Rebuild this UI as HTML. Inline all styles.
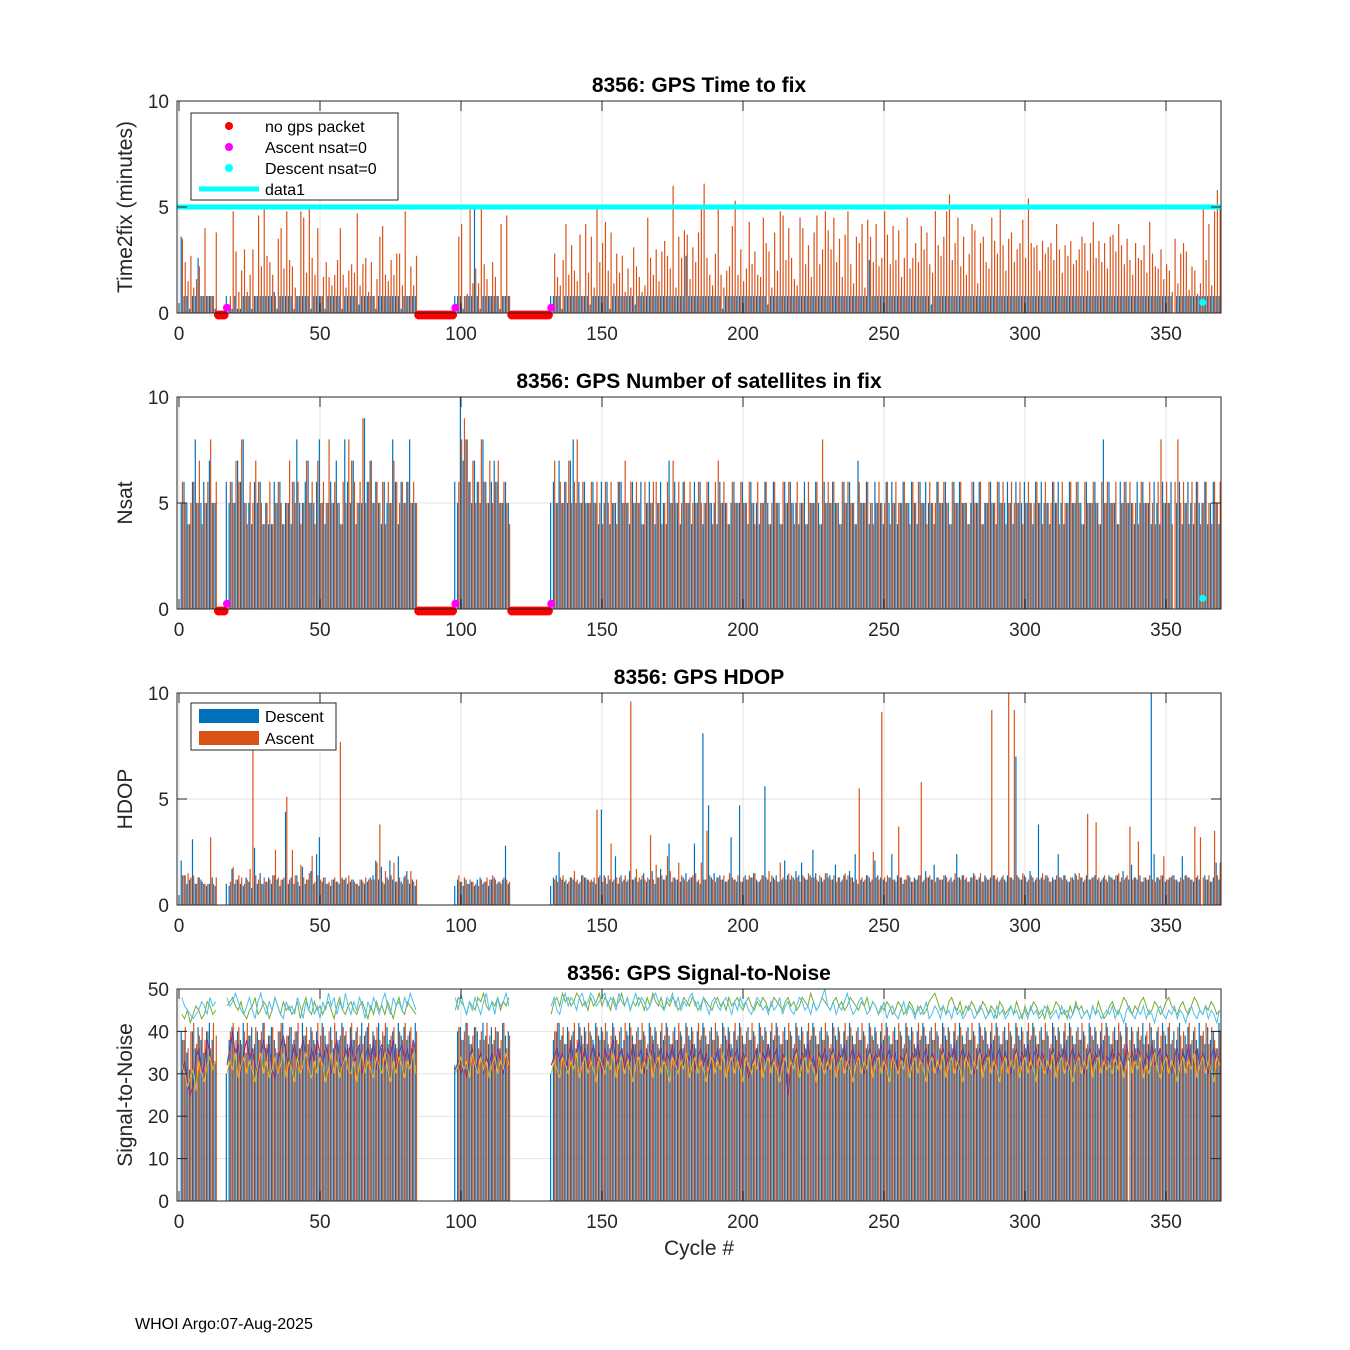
<!DOCTYPE html>
<html><head><meta charset="utf-8"><style>
html,body{margin:0;padding:0;background:#fff}
svg{display:block;font-family:"Liberation Sans","DejaVu Sans",sans-serif}
</style></head><body>
<svg id="chart" width="1350" height="1350" viewBox="0 0 1350 1350">
<rect width="1350" height="1350" fill="#fff"/>
<g id="root"></g>
<text x="135" y="1329" font-size="16" fill="#000">WHOI Argo:07-Aug-2025</text>
</svg>
<script>
const n=null;
const cycles=[];for(let c=1;c<=369;c++)cycles.push(c);
const xTicks=[0,50,100,150,200,250,300,350];
const titles=["8356: GPS Time to fix","8356: GPS Number of satellites in fix","8356: GPS HDOP","8356: GPS Signal-to-Noise"];
const yLabels=["Time2fix (minutes)","Nsat","HDOP","Signal-to-Noise"];
const yMaxes=[10,10,10,50];
const yTicks0=[0,5,10];
const yTicksSnr=[0,10,20,30,40,50];
const noPacket=[14,15,16,85,86,87,88,89,90,91,92,93,94,95,96,97,118,119,120,121,122,123,124,125,126,127,128,129,130,131];
const ascZero=[17,98,132];
const descZero=[363];
const t2fLine=5;
const t2fDesc=[3.6,.8,.8,.2,.8,.8,2.6,.8,.8,.8, .8,.8,.2,n,n,n,.8,.2,.2,.8, .2,.2,.8,.8,.8,.2,.8,.8,.8,.8, .8,.8,.8,1,.2,.8,.8,.8,.8,.8, .2,.8,.8,.8,.8,.8,.2,.8,.8,.8, .8,.2,.8,.8,.8,.8,.8,.2,.8,.8, .8,.8,.8,.4,.8,.8,.8,.8,.8,.2, .8,.8,.8,.8,.8,.8,.8,.8,.2,.8, .8,.8,.8,.8,n,n,n,n,n,n, n,n,n,n,n,n,n,.8,.8,.8, .2,.8,.8,.8,5,.8,.2,.8,.8,.8, .8,.8,.8,.2,.8,.8,.8,n,n,n, n,n,n,n,n,n,n,n,n,n, n,.8,.8,.8,.8,.2,.8,.8,.8,.8, .8,.8,.8,.8,.8,.4,.8,.8,.8,.8, .8,.8,.2,.8,.8,.8,.8,.8,.8,.8, .8,.4,.8,.8,.8,.8,.8,.8,.8,.8, .8,.8,.8,.8,.8,.8,.8,.8,.8,2.7, .8,.8,.8,.8,.8,.8,.8,.8,.8,.8, .8,.8,.2,.8,.8,.8,.8,.8,.8,.8, .8,.8,.8,.8,.8,.8,.8,.8,.4,.8, .8,.8,.8,.8,.8,.8,.8,.8,.8,.8, .8,.8,.8,.8,.8,.8,.8,.8,.8,.8, .8,.8,.8,.8,.8,.8,.8,.8,.8,.8, .8,.8,.8,.8,2.5,.8,.8,.8,.8,.8, .8,.8,.8,.8,.8,.8,.8,.8,.8,.8, .8,.8,.8,.8,.8,.8,.4,.8,.8,.8, .8,.8,.8,.8,.8,.8,.8,.8,.8,.8, .8,.8,.8,.8,.8,.8,.8,.8,.8,.8, .8,.8,.8,.8,.8,.8,.8,.8,.8,.8, .8,.8,.8,.8,.8,.8,.8,.8,.8,.8, .8,.8,.8,.8,.8,.8,.8,.8,.8,.8, .8,.8,.8,.8,.8,.8,.8,.8,.8,.8, .8,.8,.8,.8,.8,.8,.8,.8,.8,.8, .8,.8,.8,.8,.8,.8,.8,.8,.8,.8, .8,.8,n,.8,.8,.8,.8,.8,.8, .8,.8,.8,.8,.8,.8,.8,.8,.8,.8,.8,.8,.8,.8,.8];
const t2fAsc=[3.5,2.4,1.5,2.7,1.2,1.6,2.2,.8,4,.8, .8,.8,3.8,n,n,n,n,.8,4.8,2.9, 1,2,3,1,1.8,3,.8,4.6,2.2,5, 2.7,2.4,1.8,.8,3.5,4,2.1,4.8,2.5,2.2, 1.2,.8,4.8,4.5,1.9,5.1,2.6,1.8,4,.8, 1.7,2.4,1.7,1.3,1.8,2.5,4,1.8,1.2,2, 2.3,1.9,4.7,1.3,2.3,2.6,1,2.4,.8,1.6, 3.6,4.1,1.8,1.5,2.5,1.8,2.8,2.8,1.3,4.8, .8,2.2,1.3,2.7,n,n,n,n,n,n, n,n,n,n,n,n,n,n,3.6,4.2, .8,.9,5,1.4,2.1,1.4,4.9,2.3,1.6,.8, 2.4,1.7,.8,4.2,.8,4.6,.8,n,n,n, n,n,n,n,n,n,n,n,n,n, n,n,2.8,1.7,1.3,2.5,4.2,1.8,3.2,2, 1.5,3.7,.8,4.2,1.9,3.6,1.2,5.1,2.4,3.3, 4.3,2,3.8,1.4,2.8,1.9,2.7,1,2.1,1.2, 3.1,2.2,1.7,1,1.3,4.5,2.6,1.8,3,1.5, 2.9,3.4,2.7,2.1,6,1.2,3.6,2.6,3.9,3.7, 1.6,3.1,2.4,3.8,4.9,6.1,2.6,1.8,1.3,2.8, 5.1,1.8,1.2,2,2.2,4.1,5.3,1.8,3,1.5, 2.1,4.3,2.3,2.9,1.8,1.7,4.5,3.3,2.9,1.2, 3.8,2,4.8,4.6,2.5,4,2.6,1.6,1.3,4.5, 4,2.3,3.2,1.7,3.8,4.6,2.3,3,4.8,3.9, 3,4.5,2.4,3.5,1.7,3.7,4.8,2.3,1.4,3.6, 3.3,4.2,1.2,4.4,3.6,2.4,4.2,2.2,2.6,4.8, 3.7,2.3,4.1,2.5,3.9,1.7,2.6,4.5,2.1,2.6, 3.3,2.4,4.1,3,3.8,2.3,1.9,4.8,3.2,2.7, 3.6,4.8,5.6,2.5,3.3,4.5,2.2,3.6,1.8,2.8, 4.2,3.9,1.4,3.3,3.6,2.4,2.1,4.5,3.4,2.8, 4.9,3.2,2,3.5,3.8,2.4,3,3.3,4.4,2.6, 5.4,3.3,3.1,3.2,2,3.4,2.8,3.1,3.3,2.5, 4.2,3,1.9,3.2,2.7,3.4,2.3,2.5,3,3.6, 3.3,2,3.3,4.3,2.6,3.4,2.4,3.3,2.1,3.6, 3.7,2.9,4.2,3.2,2.3,3.5,2.5,1.8,3.3,2.6, 2.5,3.2,1.9,4.3,2.8,2.2,2.1,3,1.6,2.3, 2,1,3.5,1.4,2.8,3.3,2.9,1.1,2.2,2, .9,1.4,5,2.5,4.2,1.3,4.8,5.8,5];
const nsatDesc=[5,6,5,4,6,8,5,5,6,5, 7,5,5,n,n,n,6,5,6,5, 7,6,8,5,5,4,6,5,6,4, 5,4,4,6,5,6,4,5,5,4, 6,8,5,5,6,7,5,5,6,8, 5,4,5,6,5,7,5,4,8,6, 5,7,4,5,5,9,6,7,5,6, 5,4,6,5,5,8,6,4,6,5, 6,8,5,5,n,n,n,n,n,n, n,n,n,n,n,n,n,6,5,10, 7,8,6,5,7,6,5,8,6,5, 6,7,6,5,5,6,5,n,n,n, n,n,n,n,n,n,n,n,n,n, n,5,6,5,7,5,6,5,7,8, 5,6,5,6,5,5,6,5,4,6, 5,6,4,5,5,6,6,5,5,4, 6,5,5,6,4,5,6,5,4,5, 6,5,4,7,5,6,5,4,6,5, 5,4,6,5,6,4,5,6,5,5, 4,6,5,5,4,5,6,5,5,6, 5,4,6,5,5,4,5,6,5,4, 6,5,5,4,6,5,6,5,5,4, 5,6,4,5,5,6,5,4,6,5, 5,6,5,5,4,6,5,6,5,4, 7,5,5,6,4,5,6,5,5,4, 6,5,6,5,4,5,6,5,5,6, 5,4,6,5,6,5,5,4,6,5, 5,6,5,4,6,5,6,5,5,4, 5,6,5,6,4,5,5,6,5,4, 6,5,5,6,5,4,6,5,5,6, 5,5,4,6,5,6,5,5,4,6, 5,6,5,4,5,6,5,5,6,5, 4,6,5,5,6,5,4,8,5,6, 5,5,4,6,5,6,5,5,4,6, 5,6,5,5,4,6,5,4,6,5, 5,6,0,5,6,4,5,6,5, 4,6,5,5,6,4,5,6,5,4,6,5,5,6,4,6,5];
const nsatAsc=[6,5,4,5,6,5,7,4,5,6, 8,5,6,n,n,n,0,6,5,7, 6,8,5,4,6,5,7,6,5,4, 5,6,4,5,6,5,4,5,7,6, 5,6,4,5,7,5,6,4,7,5, 6,5,8,5,6,5,4,6,5,8, 7,6,5,6,9,5,6,7,5,6, 5,6,4,6,5,7,6,5,6,5, 6,5,6,5,n,n,n,n,n,n, n,n,n,n,n,n,n,0,6,8, 9,8,6,7,5,6,8,6,5,7, 5,6,7,5,6,5,4,n,n,n, n,n,n,n,n,n,n,n,n,n, n,0,7,5,6,5,6,7,5,6, 8,5,6,5,5,6,5,6,5,4, 6,5,6,5,4,6,5,7,5,6, 5,6,5,4,6,5,5,6,6,5, 4,5,6,5,7,5,6,5,6,5, 6,5,5,6,5,5,6,5,4,6, 7,5,6,5,4,6,5,5,6,5, 5,6,5,4,6,5,5,6,4,5, 6,5,4,6,5,6,5,4,6,5, 5,4,6,5,5,6,4,8,5,6, 5,6,5,4,6,5,6,5,5,4, 6,5,5,6,5,4,5,6,5,5, 6,4,5,6,5,5,6,5,4,6, 5,6,5,5,4,6,5,5,6,5, 6,5,4,6,5,5,6,5,5,4, 6,5,5,6,4,5,6,5,5,6, 5,6,4,5,6,5,5,6,4,5, 6,5,5,6,5,4,6,5,5,6, 5,4,6,5,5,6,5,6,5,4, 6,5,5,6,5,4,6,5,6,5, 5,6,4,5,6,5,6,5,5,4, 6,5,5,6,5,4,6,8,5,6, 5,4,6,8,5,6,5,4,6, 5,6,4,5,6,5,4,6,5,6,5,4,6,5,6,5,4];
const hdopDesc=[2.1,1.4,1,1.2,3.1,1,1.3,1.2,1,.9, 1,1.3,.9,n,n,n,1,.9,1.7,1, 1.2,1,.9,1.3,1.1,.8,2.7,1,1.5,1, 1.1,1.3,1,1.4,1.2,.9,1.2,4.4,1,1.3, 1,1.4,.9,1.8,1,1.2,1.6,1,2.4,3.2, 1.1,1.3,1,.9,1.2,1.1,1,1.3,1.2,1, 1.1,1.2,1,.9,1.2,1,1.1,1.3,1.4,2.1, 1.2,1.8,1,1.3,2.1,1.2,1.1,2.3,1.1,1.3, 1.6,1,1.2,.9,n,n,n,n,n,n, n,n,n,n,n,n,n,.9,1.2,1.1, .9,1.2,1,1.1,.9,1.2,1.3,1,1.1,.9, 1.2,1.3,1,1.1,1.2,2.8,1,n,n,n, n,n,n,n,n,n,n,n,n,n, n,.9,1.3,1.4,2.5,1.2,1.1,1,1.3,1.2, 1.1,1,1.4,1.3,1.2,1.1,1.1,1,1.3,4.5, 1.4,1,1.2,1.1,2.3,1,1.4,1.2,1.1,1.6, 1.2,1.3,1.1,1.2,1.5,1.1,1.2,1.6,1,1.3, 1.7,1.2,1.4,2.9,1.1,1.3,1.2,1.1,1.3,1.5, 1.2,1.3,2.9,1.1,1,8.1,1.2,4.7,1.3,1.5, 1.3,1.4,1.2,1.1,1.2,3.2,1.2,1.1,4.7,1.1, 1.4,1.2,1.3,1.5,1.2,1.1,1.4,5.6,1.2,1.1, 1.3,1.4,1.1,1.2,2.1,1.4,1.2,1.3,1.6,1.4, 2,1.3,1.2,1.4,2.6,1.5,1.1,1.3,1.2,1.5, 1.4,1.2,1.9,1.3,1.1,1.4,1.2,1.6,1.3,2.4, 1,1.2,1.1,1.4,1.3,1.2,2.1,1.4,1.3,1.2, 1.1,1.3,2.4,1.2,1.4,1.3,1,1.2,1.4,1.1, 1.3,1.2,1.4,1.1,1.6,1.3,1.2,1.9,1.3,1.2, 1.2,1.4,1.1,1.3,1.2,2.4,1.3,1.4,1.2,1.1, 1.3,1.5,1.2,1.3,1.1,1.4,1.2,1.3,1.4,1.2, 1.1,1.3,1.2,1.4,1.3,1.2,7,1.3,1.2,1.4, 1.1,1.6,1.3,1.2,3.8,1.3,1.2,1.4,1.1,1.3, 1.2,2.4,1.3,1.4,1.2,1.1,1.3,1.5,1.2,1.3, 1.1,1.4,1.2,1.3,1.4,1.2,1.1,1.3,1.2,1.4, 1.3,1.2,1.4,1.1,1.6,1.3,1.2,1.9,1.3,1.2, 1.4,1.1,1.3,1.2,10,2.4,1.3,1.2,1.4,1.1, 1.2,1.3,1.4,1.2,1.1,2.3,1.4,1.3,1.2,1.1, 1.3,1.2,n,1.4,1.2,1.1,1.3,2,1.2];
const hdopAsc=[1.4,1.4,1.5,1.3,1.4,1,1.3,1.1,1,1, 3.2,1,1.3,n,n,n,n,1.1,1.8,1.2, 1.4,1.3,1,1.2,1.7,7.5,1.4,1.2,1,1.3, 1.1,1.2,1.4,2.6,1.3,1.2,1.3,5.1,1.2,2.6, 1.4,1.1,1.9,1.3,1.2,1.5,2.3,1.1,1.4,1.2, 1.3,1,1.1,1.2,1.3,1.1,7.7,1.2,1.3,1.4, 1.2,1.1,1,1.2,1.1,1.3,1.2,1.2,1.2,2, 3.8,1.1,1.6,1.2,1.4,2,1.1,1.3,1,1.4, 1.2,1.6,1.1,1.2,n,n,n,n,n,n, n,n,n,n,n,n,n,n,1.4,1.1, 1.3,1,1.2,1.1,1,.9,1.2,1.1,1.3,1.2, 1.4,1.2,1.1,1,1.3,1.2,1.1,n,n,n, n,n,n,n,n,n,n,n,n,n, n,n,1.2,1.1,1.3,1.4,1.2,1.1,1.3,1.6, 1.2,1.1,1.4,1.3,1.2,1.2,1.3,4.5,1.4,1.1, 1.3,1.4,2.9,1.2,1.3,1.3,1.1,1.4,1.2,9.6, 1.2,1.7,1.3,1.4,1.2,1.3,3.3,1.2,1.9,1.3, 1.4,1.2,2.3,1.6,1.3,1.2,2,1.4,1.2,1.1, 1.3,1.4,1.5,1.2,2,1.2,3.5,1.4,1.2,1.1, 1.3,1.2,1.4,1.1,1.5,1.3,1.2,1.4,1.1,1.3, 1.2,1.4,1.3,1.5,1.1,1.2,1.4,1.3,1.6,1.4, 1.2,1.1,2,1.3,1.2,1.5,1.4,1.2,1.3,1.1, 1.4,1.2,1.5,1.3,1.3,1.2,1.4,1.1,1.5,1.3, 1.2,1.4,1.1,1.3,1.2,1.5,1.4,1.3,1.1,1.2, 5.5,1.3,1.2,1.4,1.1,2.5,1.3,1.2,9.1,1.3, 1.4,1.3,1.2,1.1,3.7,1.3,1.2,1.4,1.3,1.1, 1.2,1.4,5.8,1.2,1.3,1.4,1.2,1.1,1.3,1.2, 1.4,1.3,1.2,1.1,1.5,1.3,1.2,1.4,1.3,1.1, 1.3,1.4,1.2,1.5,1.1,1.3,1.2,9.2,1.4,1.3, 1.2,1.4,1.1,10,1.3,9.2,1.4,1.2,1.5,1.3, 1.2,1.4,1.1,1.3,1.2,1.5,1.4,1.3,1.1,1.2, 1.4,1.3,1.2,1.4,1.1,1.3,1.2,1.4,1.5,1.3, 1.2,4.3,1.2,1.3,3.9,1.3,1.2,1.4,1.1,1.3, 1.2,1.4,1.5,1.3,1.2,1.4,3.7,1.2,1.3,3, 1.1,1.3,1.2,1.4,1.2,1.1,1.3,1.4,2.3,1.2, 1.3,1.4,1.2,1.1,1.3,1.2,1.4,1.3,1.2,3.7, 1.4,3.2,1.3,1.2,1.4,1.1,3.5,1.4,2];
const snrDesc=[40,38,35,31,40,36,41,38,35,40, 42,38,33,n,n,n,30,38,41,36, 40,38,42,35,39,41,37,40,38,42, 36,39,41,38,35,40,42,37,39,41, 38,40,36,42,39,37,41,38,40,35, 42,39,37,41,36,40,38,42,39,37, 41,38,40,36,42,39,41,37,40,38, 42,36,39,41,38,40,37,42,39,41, 38,40,36,42,n,n,n,n,n,n, n,n,n,n,n,n,n,32,40,41, 38,42,39,37,41,40,38,42,39,37, 41,38,40,36,42,39,40,n,n,n, n,n,n,n,n,n,n,n,n,n, n,30,38,40,42,39,37,41,38,40, 36,42,39,41,37,40,38,42,39,41, 38,40,36,42,39,37,41,38,40,42, 39,37,41,38,40,36,42,39,41,37, 40,38,42,39,37,41,38,40,36,42, 39,41,37,40,38,42,39,37,41,38, 40,36,42,39,41,37,40,38,42,39, 37,41,38,40,36,42,39,41,37,40, 38,42,39,37,41,38,40,36,42,39, 41,37,40,38,42,39,37,41,38,40, 36,42,39,41,37,40,38,42,39,37, 41,38,40,36,42,39,41,37,40,38, 42,39,37,41,38,40,36,42,39,41, 37,40,38,42,39,37,41,38,40,36, 42,39,41,37,40,38,42,39,37,41, 38,40,36,42,39,41,37,40,38,42, 39,37,41,38,40,36,42,39,41,37, 40,38,42,39,37,41,38,40,36,42, 39,41,37,40,38,42,39,37,41,38, 40,36,42,39,41,37,40,38,42,39, 37,41,38,40,36,42,n,41,37,40, 38,42,39,37,41,38,40,36,42, 39,41,37,40,38,42,36,39,41,37,40,38,42,39,37,41,38,40,36,42,39,41,37,40,38];
const snrAsc=[38,41,36,40,42,37,39,41,38,40, 36,42,39,n,n,n,n,40,42,38, 41,37,40,42,39,36,41,38,40,42, 37,39,41,36,40,42,38,39,41,37, 40,42,36,39,41,38,40,37,42,39, 41,36,40,38,42,37,39,41,40,36, 42,38,41,39,37,40,42,36,39,41, 38,40,42,37,39,41,36,40,38,42, 39,41,37,40,n,n,n,n,n,n, n,n,n,n,n,n,n,n,41,38, 40,42,37,39,41,36,40,38,42,39, 37,41,40,38,42,36,39,n,n,n, n,n,n,n,n,n,n,n,n,n, n,n,40,42,38,41,37,40,39,42, 38,41,37,40,42,39,36,41,38,40, 42,37,39,41,38,40,36,42,39,41, 37,40,38,42,39,37,41,38,40,36, 42,39,41,37,40,38,42,39,37,41, 38,40,36,42,39,41,37,40,38,42, 39,37,41,38,40,36,42,39,41,37, 40,38,42,39,37,41,38,40,36,42, 39,41,37,40,38,42,39,37,41,38, 40,36,42,39,41,37,40,38,42,39, 37,41,38,40,36,42,39,41,37,40, 38,42,39,37,41,38,40,36,42,39, 41,37,40,38,42,39,37,41,38,40, 36,42,39,41,37,40,38,42,39,37, 41,38,40,36,42,39,41,37,40,38, 42,39,37,41,38,40,36,42,39,41, 37,40,38,42,39,37,41,38,40,36, 42,39,41,37,40,38,42,39,37,41, 38,40,36,42,39,41,37,40,38,42, 39,37,41,38,40,36,42,39,41,37, 40,38,42,39,37,41,38,40,36, 41,39,37,40,42,38,36,41,39,40,37,42,38,36,41,39,40,37,42,38,41,36,39,40,42,37,41,38,36,40,39,42,37,41,38,40,36,39,42,37,41,38,40,39,36];
const snrGreen=[44,43,45,42,44,46,45,43,44,47, 46,44,45,n,n,n,46,47,48,46, 45,47,44,43,45,46,48,44,45,47, 46,43,45,48,46,44,47,45,46,44, 45,47,43,46,48,45,44,47,45,46, 44,46,47,45,43,46,48,45,44,46, 47,45,44,46,47,45,43,46,44,47, 45,46,44,47,45,43,46,48,45,44, 47,46,45,44,n,n,n,n,n,n, n,n,n,n,n,n,n,45,48,47, 46,44,47,46,45,48,47,49,46,45, 47,46,48,45,47,46,48,n,n,n, n,n,n,n,n,n,n,n,n,n, n,44,47,48,46,49,47,48,46,47, 49,48,46,47,45,48,46,47,49,46, 48,47,45,48,46,47,49,46,48,45, 47,46,48,47,45,48,46,49,47,46, 48,45,47,46,48,47,45,46,48,47, 46,48,47,45,46,48,47,46,45,47, 48,46,47,45,48,46,47,48,46,45, 47,48,46,45,47,46,48,47,45,46, 48,47,46,45,47,48,46,47,45,46, 48,47,46,49,47,45,46,48,47,46, 45,47,48,46,47,45,46,48,47,46, 45,47,46,48,45,47,46,44,46,45, 47,46,44,45,47,46,44,45,47,46, 44,45,46,44,45,47,48,49,47,45, 46,44,47,48,46,45,47,44,46,45, 47,46,44,45,47,46,44,46,45,43, 47,46,44,45,46,44,47,45,43,46, 44,45,47,46,44,45,43,46,44,45, 47,46,44,45,43,46,44,47,45,46, 44,45,43,46,44,47,45,43,44, 46,47,45,44,46,48,47,45,44,46,45,47,48,46,44,45,47,46,44,45,47,48,46,45,44,46,47,45,44,46,48,47,45,44,46,45,47,46,44,45,47,46,44,45,43];
const snrCyan=[48,46,45,44,43,44,45,47,46,44, 48,46,47,n,n,n,48,46,47,49, 47,45,44,46,48,45,43,47,49,46, 44,47,45,48,46,44,43,47,45,46, 44,48,46,43,47,45,48,44,46,43, 47,45,49,46,48,44,47,45,49,46, 44,47,45,48,46,43,47,45,48,46, 44,47,49,46,44,48,46,47,45,48, 46,49,47,45,n,n,n,n,n,n, n,n,n,n,n,n,n,48,45,49, 46,44,47,45,48,46,44,47,49,45, 47,44,48,46,47,49,46,n,n,n, n,n,n,n,n,n,n,n,n,n, n,46,48,45,44,47,49,46,48,47, 45,48,49,46,47,49,48,46,47,48, 49,46,48,47,45,49,47,46,48,45, 47,49,46,48,47,45,46,48,49,47, 46,45,48,47,49,46,48,45,47,46, 48,49,46,47,45,48,46,44,47,48, 46,45,47,48,46,44,47,45,48,46, 47,45,44,46,48,47,45,46,44,47, 45,46,48,44,46,47,45,44,46,48, 47,45,46,44,47,45,46,48,50,46, 45,47,44,46,45,47,49,46,44,45, 47,48,46,44,45,47,46,44,45,47, 43,45,46,44,43,45,47,44,46,45, 43,46,44,45,47,43,44,46,45,43, 46,44,45,43,46,44,45,43,44,46, 45,43,44,46,45,43,44,45,43,46, 44,45,43,44,46,44,45,43,44,45, 43,46,44,45,43,44,46,45,43,44, 45,43,46,44,45,43,44,46,45,43, 44,45,43,46,44,45,43,44,45, 44,46,43,45,44,42,45,46,44,43,45,44,46,43,45,44,42,45,46,44,43,45,44,46,43,45,44,42,45,46,44,43,45,44,46,43,45,44,42,45,44,46,43,45,44];
const snrPurple=[30,33,28,25,27,34,36,30,32,38, 35,31,33,n,n,n,32,36,40,34, 37,31,35,38,33,36,32,30,35,38, 34,37,31,29,33,36,39,35,31,34, 37,32,35,38,34,31,36,33,38,35, 32,37,34,30,35,38,33,31,36,34, 38,32,35,37,30,34,36,33,38,31, 35,37,32,36,34,38,31,35,37,33, 36,32,38,35,n,n,n,n,n,n, n,n,n,n,n,n,n,31,33,30, 32,29,34,36,31,33,35,30,34,32, 35,31,36,33,30,34,32,n,n,n, n,n,n,n,n,n,n,n,n,n, n,32,34,36,33,35,31,34,37,32, 35,38,33,36,31,34,37,32,35,30, 36,33,35,38,32,34,36,31,35,33, 37,32,34,36,30,35,33,37,31,34, 36,32,35,33,37,31,34,36,32,35, 33,37,31,34,36,32,35,30,34,33, 36,31,35,33,37,32,34,36,31,35, 33,29,32,34,36,31,35,33,37,32, 34,36,30,35,33,25,32,34,36,31, 35,33,37,32,34,30,35,33,36,31, 34,36,32,35,33,37,31,34,36,32, 35,33,30,34,36,32,35,33,37,31, 34,36,32,35,30,34,33,36,31,35, 33,37,32,34,36,31,35,33,30,34, 36,32,35,33,37,31,34,36,32,35, 33,30,34,36,32,35,33,37,31,34, 36,32,35,33,30,34,36,32,35,33, 37,31,34,36,32,35,33,30,34,36, 32,35,33,37,31,34,36,32,35,33, 30,34,36,32,35,33,37,31,34, 33,36,32,35,34,31,37,33,35,32,36,34,31,35,33,37,32,34,36,31,35,33,30,34,36,32,35,33,37,31,34,36,32,35,33,30,34,36,32,35,33,37,31,34,36];
const snrOrange=[32,30,27,29,31,26,33,30,28,32, 34,31,33,n,n,n,30,33,31,35, 29,32,34,30,33,31,28,32,35,30, 33,29,31,34,30,32,35,29,33,31, 28,34,30,32,35,31,29,33,30,34, 32,28,31,35,30,33,29,32,34,31, 30,33,28,32,35,30,33,31,29,34, 32,30,35,31,28,33,30,34,32,29, 33,31,35,30,n,n,n,n,n,n, n,n,n,n,n,n,n,30,32,34, 31,33,29,35,32,30,34,31,33,29, 32,34,30,33,31,35,32,n,n,n, n,n,n,n,n,n,n,n,n,n, n,30,33,31,29,34,32,30,33,31, 35,29,32,34,30,33,31,28,34,32, 30,33,31,35,29,32,34,30,33,31, 28,32,34,30,33,31,35,29,32,34, 30,33,31,28,34,32,30,33,31,35, 29,32,34,30,33,31,28,32,34,30, 33,31,35,29,32,34,30,33,31,28, 34,32,30,33,31,35,29,32,34,30, 33,31,28,32,34,30,33,31,35,29, 32,34,30,33,31,28,34,32,30,33, 31,35,29,32,34,30,33,31,28,32, 34,30,33,31,35,29,32,34,30,33, 31,28,34,32,30,33,31,35,29,32, 34,30,33,31,28,32,34,30,33,31, 35,29,32,34,30,33,31,28,34,32, 30,33,31,35,29,32,34,30,33,31, 28,32,34,30,33,31,35,29,32,34, 30,33,31,28,34,32,30,33,31,35, 29,32,34,30,33,31,28,32,34,30, 33,31,35,29,32,34,30,33,31, 32,30,34,31,33,29,32,35,30,33,31,34,29,32,30,33,35,31,29,32,34,30,33,31,28,32,34,30,33,31,35,29,32,34,30,33,31,28,34,32,30,33,31,35,29];

const NS="http://www.w3.org/2000/svg";
const root=document.getElementById('root');
const L=177,R=1221,X0=179,XS=2.82;
const tops=[101,397,693,989],H=212;
function xS(v){return X0+v*XS;}
function yS(p,v){return tops[p]+H-v/yMaxes[p]*H;}
function mk(tag,attrs,parent){const e=document.createElementNS(NS,tag);for(const k in attrs)e.setAttribute(k,attrs[k]);(parent||root).appendChild(e);return e;}
const C={blue:"#0072BD",orange:"#D95319",yellow:"#EDB120",purple:"#7E2F8E",green:"#77AC30",cyan:"#4DBEEE"};

for(let p=0;p<4;p++){
  const g=mk('g',{});
  
  
  const top=tops[p],bot=top+H;
  const grid=mk('g',{},g);
  
  
  xTicks.forEach(t=>{mk('line',{x1:xS(t),x2:xS(t),y1:top,y2:bot,stroke:"#e3e3e3","stroke-width":1},grid);});
  const yt=p===3?yTicksSnr:yTicks0;
  yt.forEach(t=>{mk('line',{x1:L,x2:R,y1:yS(p,t),y2:yS(p,t),stroke:"#e3e3e3","stroke-width":1},grid);});
  const marks=mk('g',{},g);
  
  
  const pairs=[[t2fDesc,t2fAsc],[nsatDesc,nsatAsc],[hdopDesc,hdopAsc],[snrDesc,snrAsc]][p];
  cycles.forEach((c,i)=>{
    const d=pairs[0][i],a=pairs[1][i];
    if(d!=null&&d>0){const b=mk('line',{x1:xS(c-0.22),x2:xS(c-0.22),y1:bot,y2:Math.max(top,yS(p,d)),stroke:C.blue,"stroke-width":1.2},marks);
      
      }
    if(a!=null&&a>0){const b=mk('line',{x1:xS(c+0.22),x2:xS(c+0.22),y1:bot,y2:Math.max(top,yS(p,a)),stroke:C.orange,"stroke-width":1.2},marks);
      
      }
  });
  if(p===3){
    [[snrGreen,C.green],[snrCyan,C.cyan],[snrPurple,C.purple],[snrOrange,C.yellow]].forEach(([arr,col])=>{
      let dstr="",pen=false;
      cycles.forEach((c,i)=>{const v=arr[i];if(v==null){pen=false;return;}dstr+=(pen?"L":"M")+xS(c).toFixed(1)+","+yS(3,Math.min(50,v)).toFixed(1);pen=true;});
      const pth=mk('path',{d:dstr,fill:"none",stroke:col,"stroke-width":1},marks);
      
      
    });
  }
  if(p===0){
    const ln=mk('line',{x1:L,x2:R,y1:yS(0,t2fLine),y2:yS(0,t2fLine),stroke:"#00FFFF","stroke-width":5},marks);
    
    
  }
  if(p<2){
    noPacket.forEach(c=>{const m=mk('circle',{cx:xS(c),cy:yS(p,0)+2,r:4.5,fill:"#FF0000"},marks);
      
      });
    ascZero.forEach(c=>{const m=mk('circle',{cx:xS(c),cy:yS(p,0.25),r:4,fill:"#FF00FF"},marks);
      
      });
    descZero.forEach(c=>{const m=mk('circle',{cx:xS(c),cy:yS(p,0.5),r:3.5,fill:"#00FFFF"},marks);
      
      });
  }
  const ax=mk('rect',{x:L,y:top,width:R-L,height:H,fill:"none",stroke:"#262626","stroke-width":1},g);
  
  
  xTicks.forEach(t=>{
    mk('line',{x1:xS(t),x2:xS(t),y1:bot,y2:bot-10,stroke:"#262626"},g);
    mk('line',{x1:xS(t),x2:xS(t),y1:top,y2:top+10,stroke:"#262626"},g);
    const tx=mk('text',{x:xS(t),y:bot+27,"font-size":19,"text-anchor":"middle",fill:"#262626"},g);
    tx.textContent=t;
    
    
  });
  yt.forEach(t=>{
    mk('line',{x1:L,x2:L+10,y1:yS(p,t),y2:yS(p,t),stroke:"#262626"},g);
    mk('line',{x1:R,x2:R-10,y1:yS(p,t),y2:yS(p,t),stroke:"#262626"},g);
    const tx=mk('text',{x:L-8,y:yS(p,t)+7,"font-size":19,"text-anchor":"end",fill:"#262626"},g);
    tx.textContent=t;
    
    
  });
  const ti=mk('text',{x:699,y:top-9,"font-size":21,"font-weight":"bold","text-anchor":"middle",fill:"#000"},g);
  ti.textContent=titles[p];
  
  
  const yl=mk('text',{x:0,y:0,"font-size":21,"text-anchor":"middle",fill:"#262626",transform:"translate(132,"+(top+H/2)+") rotate(-90)"},g);
  yl.textContent=yLabels[p];
  
  
}
const xl=mk('text',{x:699,y:1255,"font-size":21,"text-anchor":"middle",fill:"#262626"});
xl.textContent="Cycle #";



const lg1=mk('g',{});


mk('rect',{x:191,y:113,width:207,height:87,fill:"#fff",stroke:"#262626"},lg1);
[["no gps packet","#FF0000",126],["Ascent nsat=0","#FF00FF",147],["Descent nsat=0","#00FFFF",168]].forEach(([lab,col,y])=>{
  const e=mk('g',{},lg1);
  
  
  mk('circle',{cx:229,cy:y,r:4,fill:col},e);
  const t=mk('text',{x:265,y:y+6,"font-size":16,fill:"#000"},e);t.textContent=lab;
});
{const e=mk('g',{},lg1);


mk('line',{x1:199,x2:259,y1:189,y2:189,stroke:"#00FFFF","stroke-width":5},e);
const t=mk('text',{x:265,y:195,"font-size":16,fill:"#000"},e);t.textContent="data1";}
const lg3=mk('g',{});


mk('rect',{x:191,y:703,width:145,height:47,fill:"#fff",stroke:"#262626"},lg3);
[["Descent",C.blue,716],["Ascent",C.orange,738]].forEach(([lab,col,y])=>{
  const e=mk('g',{},lg3);
  
  
  mk('rect',{x:199,y:y-7,width:60,height:14,fill:col},e);
  const t=mk('text',{x:265,y:y+6,"font-size":16,fill:"#000"},e);t.textContent=lab;
});
</script>
</body></html>
